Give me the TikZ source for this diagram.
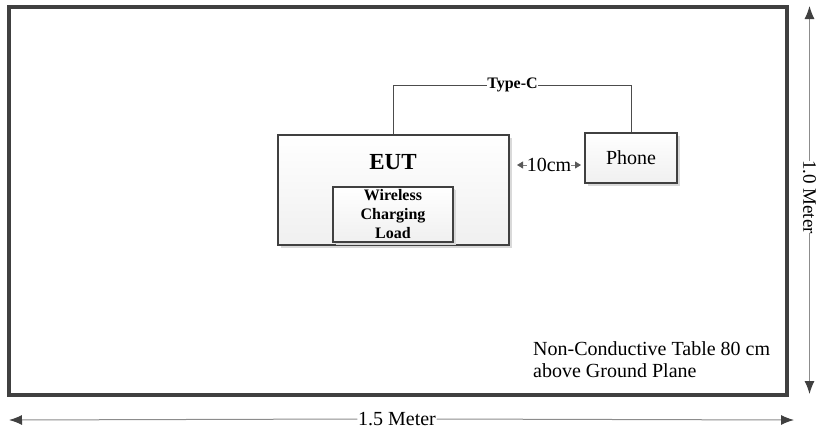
\documentclass[tikz,border=0pt]{standalone}
\usepackage{fontspec}
\setmainfont{Liberation Serif}
\usetikzlibrary{arrows.meta,shadows}
\begin{document}
\begin{tikzpicture}[x=1pt,y=-1pt,
  txt/.style={inner sep=1pt, font=\fontsize{20}{22}\selectfont},
  boldlbl/.style={inner sep=1pt, font=\fontsize{16}{19}\selectfont\bfseries},
  box/.style={draw=black!75, line width=1.8pt, inner sep=0pt,
    shading=axis, top color=white, bottom color=gray!12,
    drop shadow={shadow xshift=3pt, shadow yshift=-3pt, fill=gray!30, opacity=1}},
  conn/.style={draw=black!70, line width=1pt},
  dim/.style={draw=gray!90, line width=1pt,
    -{Latex[length=13pt,width=10pt,color=black!75,fill=black!75]}},
  smalldim/.style={draw=gray, line width=0.8pt,
    -{Triangle[length=6pt,width=7pt,color=black!65,fill=black!65]}}
]
\useasboundingbox (0,0) rectangle (818,434);
% table
\node[draw=black!75, line width=3.3pt, minimum width=778pt, minimum height=388pt, inner sep=0pt] (table) at (398,201) {};
% EUT
\node[box, minimum width=231pt, minimum height=110pt] (eut) at (393.5,190) {};
\node[inner sep=0pt, font=\fontsize{23}{26}\selectfont\bfseries] (euttxt) at (393,162) {EUT};
\node[box, minimum width=120pt, minimum height=55pt, drop shadow={shadow xshift=2pt, shadow yshift=-2pt, fill=gray!30, opacity=1}] (load) at (393,214.5) {};
\node[boldlbl, align=center] (loadtxt) at (393,214) {Wireless\\Charging\\Load};
% Phone
\node[box, minimum width=92pt, minimum height=50pt] (phone) at (631,158) {};
\node[txt] (phonetxt) at (631,158) {Phone};
% Type-C cable
\node[boldlbl, inner sep=0.5pt] (typec) at (512.5,85) {Type-C};
\draw[conn] (eut.north) |- (typec.west);
\draw[conn] (typec.east) -| (phone.north);
% 10cm
\node[txt, inner sep=0pt] (ten) at (549,165) {10cm};
\coordinate (tl) at (517,165);
\coordinate (tr) at (581,165);
\draw[smalldim] (ten.west) -- (tl);
\draw[smalldim] (ten.east) -- (tr);
% note
\node[txt, anchor=north west, align=left, inner sep=0pt] (note) at (533,341) {Non-Conductive Table 80 cm\\above Ground Plane};
% 1.0 Meter
\node[rotate=-90, inner sep=0pt, font=\fontsize{19}{21}\selectfont] (m10) at (809.5,197) {1.0 Meter};
\coordinate (vt) at (809.5,6);
\coordinate (vb) at (809.5,394);
\draw[dim] ([yshift=-1pt]m10.west) -- (vt);
\draw[dim] ([yshift=1pt]m10.east) -- (vb);
% 1.5 Meter
\node[txt, inner sep=0.5pt] (m15) at (397,419) {1.5 Meter};
\coordinate (hl) at (9,420);
\coordinate (hr) at (794,420);
\draw[dim] (m15.west) -- (hl);
\draw[dim] (m15.east) -- (hr);
\end{tikzpicture}
\end{document}
